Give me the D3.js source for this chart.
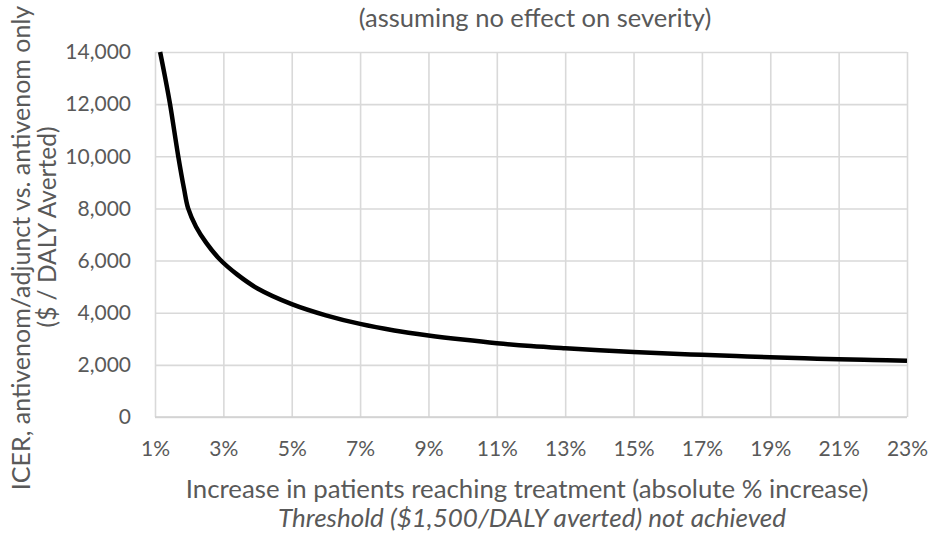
<!DOCTYPE html>
<html>
<head>
<meta charset="utf-8">
<script src="https://cdn.jsdelivr.net/npm/d3@7"></script>
<style>
  body { margin: 0; background: #fff; }
  text { font-family: Lato, "Open Sans", sans-serif; fill: #595959; }
</style>
</head>
<body>
<div id="chart-container"></div>
<script>
// values (x in %, y in $ / DALY averted)
const xPct = [1.15, 1.3, 1.44, 1.68, 1.85, 1.97, 2.2, 2.5, 2.9, 3.4, 4, 5, 6, 7, 8, 9, 10, 11, 12, 13, 14, 15, 16, 17, 18, 19, 20, 21, 22, 23];
const icer = [14000, 13000, 12000, 10000, 8750, 8000, 7300, 6680, 6040, 5470, 4930, 4330, 3900, 3570, 3320, 3130, 2970, 2830, 2720, 2635, 2560, 2495, 2435, 2385, 2335, 2292, 2252, 2217, 2188, 2160];
const xTicks = [1, 3, 5, 7, 9, 11, 13, 15, 17, 19, 21, 23];
const yTicks = [0, 2000, 4000, 6000, 8000, 10000, 12000, 14000];

const W = 928, H = 535;
const margin = { top: 52, right: 21, bottom: 118, left: 155 };
const width = W - margin.left - margin.right;
const height = H - margin.top - margin.bottom;

const root = d3.select("#chart-container")
    .append("svg")
    .attr("width", W)
    .attr("height", H);

const svg = root.append("g")
    .attr("transform", `translate(${margin.left}, ${margin.top})`);

const xScale = d3.scaleLinear().domain([1, 23]).range([0, width]);
const yScale = d3.scaleLinear().domain([0, 14000]).range([height, 0]);

// gridlines
svg.append("g")
    .call(d3.axisLeft(yScale).tickValues(yTicks).tickSize(-width).tickFormat(""))
    .call(g => g.select(".domain").remove())
    .call(g => g.selectAll("line").attr("stroke", "#d9d9d9").attr("stroke-width", 1.6));

svg.append("g")
    .attr("transform", `translate(0, ${height})`)
    .call(d3.axisBottom(xScale).tickValues(xTicks).tickSize(-height).tickFormat(""))
    .call(g => g.select(".domain").remove())
    .call(g => g.selectAll("line").attr("stroke", "#d9d9d9").attr("stroke-width", 1.6));

// x axis line
svg.append("line")
    .attr("x1", 0).attr("x2", width)
    .attr("y1", height).attr("y2", height)
    .attr("stroke", "#d0d0d0").attr("stroke-width", 1.6);

// tick labels
const fmt = d3.format(",");
svg.append("g")
    .call(d3.axisLeft(yScale).tickValues(yTicks).tickSize(0).tickPadding(24).tickFormat(fmt))
    .call(g => g.select(".domain").remove())
    .call(g => g.selectAll("text").style("font-size", "21px").attr("fill", "#595959"));

svg.append("g")
    .attr("transform", `translate(0, ${height})`)
    .call(d3.axisBottom(xScale).tickValues(xTicks).tickSize(0).tickPadding(24).tickFormat(d => d + "%"))
    .call(g => g.select(".domain").remove())
    .call(g => g.selectAll("text").style("font-size", "21px").attr("fill", "#595959"));

// curve
svg.append("clipPath").attr("id", "clip")
    .append("rect").attr("x", 0).attr("y", -2).attr("width", width).attr("height", height + 2);

const line = d3.line()
    .x((d, i) => xScale(xPct[i]))
    .y(d => yScale(d))
    .curve(d3.curveCatmullRom.alpha(0.5));

svg.append("path")
    .datum(icer)
    .attr("clip-path", "url(#clip)")
    .attr("fill", "none")
    .attr("stroke", "#000")
    .attr("stroke-width", 4.5)
    .attr("stroke-linejoin", "round")
    .attr("d", line);

// titles
const cx = margin.left + width / 2;
root.append("text")
    .attr("x", cx + 4).attr("y", 27)
    .attr("text-anchor", "middle")
    .style("font-size", "25.5px")
    .text("(assuming no effect on severity)");

root.append("text")
    .attr("x", cx - 4).attr("y", 498)
    .attr("text-anchor", "middle")
    .style("font-size", "25.8px")
    .text("Increase in patients reaching treatment (absolute % increase)");

root.append("text")
    .attr("x", cx + 1).attr("y", 527)
    .attr("text-anchor", "middle")
    .style("font-size", "26px")
    .style("font-style", "italic")
    .text("Threshold ($1,500/DALY averted) not achieved");

root.append("text")
    .attr("transform", "translate(30, 248) rotate(-90)")
    .attr("text-anchor", "middle")
    .style("font-size", "25px")
    .text("ICER, antivenom/adjunct vs. antivenom only");

root.append("text")
    .attr("transform", "translate(56, 227) rotate(-90)")
    .attr("text-anchor", "middle")
    .style("font-size", "24.5px")
    .text("($ / DALY Averted)");
</script>
</body>
</html>
